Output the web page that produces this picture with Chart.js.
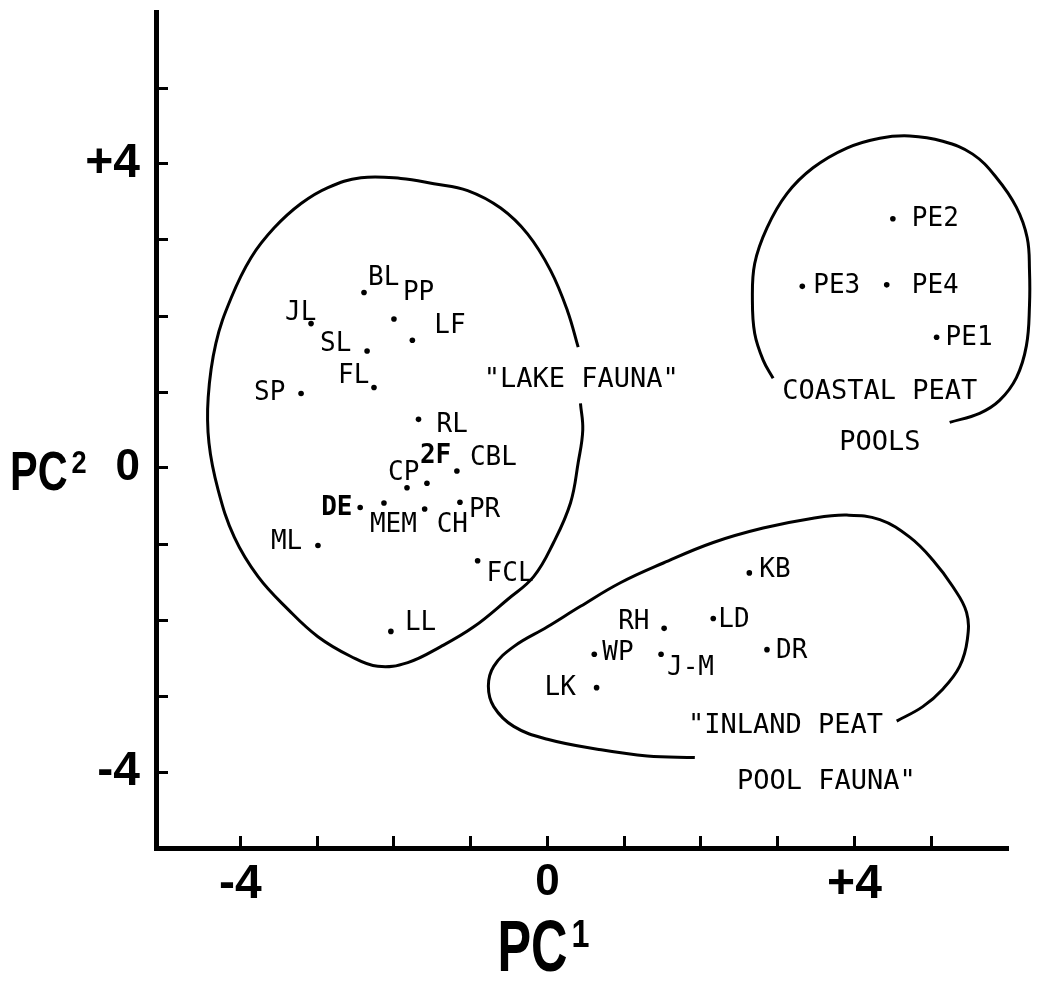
<!DOCTYPE html>
<html>
<head>
<script src="https://cdn.jsdelivr.net/npm/chart.js@4.4.1/dist/chart.umd.min.js"></script>
<title>PC1 / PC2 site scores</title>
<style>
  body { margin: 0; background: #fff; }
  canvas { display: block; }
</style>
</head>
<body>
<canvas id="pcaChart" width="1051" height="981"></canvas>
<script>
// site scores on the first two components
const siteNames = ['BL', 'PP', 'JL', 'LF', 'SL', 'FL', 'SP', 'RL', '2F', 'CBL', 'CP', 'DE', 'MEM', 'CH', 'PR', 'ML', 'FCL', 'LL',
                   'PE2', 'PE3', 'PE4', 'PE1',
                   'KB', 'RH', 'LD', 'WP', 'J-M', 'DR', 'LK'];
const pc1 = [-2.39, -2.00, -3.08, -1.76, -2.35, -2.26, -3.21, -1.68, -1.57, -1.18, -1.83, -2.44, -2.13, -1.60, -1.14, -2.99, -0.91, -2.04,
             4.50, 3.32, 4.42, 5.07,
             2.63, 1.52, 2.16, 0.61, 1.48, 2.86, 0.64];
const pc2 = [2.31, 1.96, 1.90, 1.68, 1.54, 1.06, 0.98, 0.64, -0.20, -0.04, -0.26, -0.52, -0.46, -0.54, -0.45, -1.02, -1.22, -2.15,
             3.28, 2.39, 2.41, 1.72,
             -1.38, -2.11, -1.98, -2.45, -2.45, -2.39, -2.89];

// hand drawn group outlines (PC1, PC2)
const lakeOutline = [[0.40, 1.59], [0.26, 2.07], [0.04, 2.60], [-0.26, 3.08], [-0.61, 3.42], [-1.04, 3.65], [-1.48, 3.74],
  [-1.91, 3.81], [-2.43, 3.82], [-2.86, 3.69], [-3.21, 3.48], [-3.56, 3.16], [-3.86, 2.77], [-4.12, 2.24], [-4.32, 1.64],
  [-4.42, 0.93], [-4.41, 0.33], [-4.29, -0.29], [-4.08, -0.91], [-3.77, -1.43], [-3.38, -1.86], [-2.99, -2.22],
  [-2.56, -2.48], [-2.21, -2.61], [-1.82, -2.56], [-1.39, -2.35], [-0.96, -2.09], [-0.52, -1.73], [-0.18, -1.43],
  [0.08, -0.98], [0.30, -0.46], [0.40, 0.07], [0.46, 0.50], [0.43, 0.85]];
const coastalOutline = [[2.94, 1.18], [2.81, 1.42], [2.70, 1.77], [2.67, 2.20], [2.70, 2.69], [2.86, 3.16], [3.12, 3.61],
  [3.46, 3.95], [3.90, 4.21], [4.33, 4.34], [4.72, 4.37], [5.15, 4.30], [5.54, 4.13], [5.85, 3.82], [6.11, 3.43],
  [6.25, 3.03], [6.28, 2.60], [6.28, 2.14], [6.24, 1.61], [6.11, 1.19], [5.89, 0.89], [5.63, 0.72], [5.24, 0.60]];
const inlandOutline = [[1.92, -3.81], [1.30, -3.79], [0.65, -3.70], [0.00, -3.57], [-0.44, -3.40], [-0.70, -3.14],
  [-0.77, -2.87], [-0.70, -2.61], [-0.44, -2.35], [0.00, -2.09], [0.43, -1.82], [0.95, -1.51], [1.51, -1.25],
  [2.16, -0.98], [2.81, -0.79], [3.46, -0.66], [3.90, -0.62], [4.33, -0.68], [4.72, -0.91], [5.02, -1.21],
  [5.28, -1.56], [5.46, -1.90], [5.47, -2.26], [5.37, -2.61], [5.15, -2.91], [4.89, -3.14], [4.55, -3.33]];

const groupNames = ['"LAKE FAUNA"', 'COASTAL PEAT', 'POOLS', '"INLAND PEAT', 'POOL FAUNA"'];

const xTickLabels = { '-4': '-4', '0': '0', '4': '+4' };
const yTickLabels = { '-4': '-4', '0': '0', '4': '+4' };

// where each site name sits relative to its dot, px (left edge, cap middle)
const labelOffsets = [[5, -17], [10, -29], [-25, -13], [23, -17], [-46, -9], [-35, -14], [-46, -3], [19, 3], [-6, -30],
  [14, -16], [-18, -17], [-38, -2], [-13, 20], [13, 13], [10, 5], [-46, -6], [10, 11], [15, -11],
  [20, -2], [12, -3], [26, -1], [10, -2],
  [11, -5], [-45, -9], [6, -1], [9, -4], [7, 11], [10, -1], [-51, -2]];
const boldLabels = ['2F', 'DE'];
// group captions anchored in data units: [pc1, pc2, align]
const groupAnchors = [[-0.83, 1.20, 'left'], [4.33, 1.04, 'center'], [4.33, 0.37, 'center'],
  [1.83, -3.36, 'left'], [2.47, -4.09, 'left']];

const monoFont = "'DejaVu Sans Mono', 'Liberation Mono', monospace";
const boldSans = "'Liberation Sans', Arial, sans-serif";

function outline(pts) {
  return {
    data: pts.map(p => ({ x: p[0], y: p[1] })),
    showLine: true,
    tension: 0.4,
    borderColor: '#000',
    borderWidth: 3,
    pointRadius: 0,
    clip: false
  };
}

// draws "PC" squeezed plus a raised digit
function axisTitle(ctx, base, sup, x, y, size, supSize, squeeze) {
  ctx.save();
  ctx.textBaseline = 'alphabetic';
  ctx.textAlign = 'left';
  ctx.font = 'bold ' + size + 'px ' + boldSans;
  const w = ctx.measureText(base).width * squeeze;
  ctx.save();
  ctx.translate(x, y);
  ctx.scale(squeeze, 1);
  ctx.fillText(base, 0, 0);
  ctx.restore();
  ctx.font = 'bold ' + supSize + 'px ' + boldSans;
  ctx.translate(x + w + 4, y - size * 0.716 + supSize * 0.716);
  ctx.scale(0.85, 1);
  ctx.fillText(sup, 0, 0);
  ctx.restore();
}

const textPlugin = {
  id: 'pcaText',
  afterDatasetsDraw(chart) {
    const ctx = chart.ctx;
    const xs = chart.scales.x, ys = chart.scales.y;
    const pts = chart.getDatasetMeta(0).data;
    ctx.save();
    ctx.fillStyle = '#000';
    ctx.textBaseline = 'alphabetic';
    siteNames.forEach((name, i) => {
      const p = pts[i];
      ctx.font = (boldLabels.includes(name) ? 'bold ' : '') + '26px ' + monoFont;
      ctx.textAlign = 'left';
      ctx.fillText(name, p.x + labelOffsets[i][0] - 1, p.y + labelOffsets[i][1] + 9.5);
    });
    ctx.font = '27px ' + monoFont;
    groupNames.forEach((g, i) => {
      const a = groupAnchors[i];
      ctx.textAlign = a[2];
      ctx.fillText(g, xs.getPixelForValue(a[0]), ys.getPixelForValue(a[1]) + 10);
    });
    ctx.restore();

    ctx.fillStyle = '#000';
    axisTitle(ctx, 'PC', '1', xs.getPixelForValue(0) - 50, 971, 72, 38, 0.7);
    axisTitle(ctx, 'PC', '2', 10, ys.getPixelForValue(0) + 22, 56, 32, 0.74);
  }
};

function tickFont(ctx) {
  const v = ctx.tick ? ctx.tick.value : null;
  return { family: boldSans, weight: 'bold', size: v === 0 ? 44 : 48 };
}

new Chart(document.getElementById('pcaChart'), {
  type: 'scatter',
  data: {
    datasets: [
      {
        data: siteNames.map((n, i) => ({ x: pc1[i], y: pc2[i] })),
        pointRadius: 2.8,
        pointBackgroundColor: '#000',
        pointBorderWidth: 0
      },
      outline(lakeOutline),
      outline(coastalOutline),
      outline(inlandOutline)
    ]
  },
  options: {
    responsive: false,
    animation: false,
    devicePixelRatio: 1,
    layout: { padding: { top: 12, right: 43, left: 0, bottom: 0 } },
    plugins: { legend: { display: false }, tooltip: { enabled: false } },
    scales: {
      x: {
        type: 'linear',
        min: -5.1,
        max: 6,
        afterBuildTicks(scale) {
          scale.ticks = [-4, -3, -2, -1, 0, 1, 2, 3, 4, 5].map(v => ({ value: v }));
        },
        afterFit(scale) {
          scale.height = 133;
          scale.paddingLeft = 0;
          scale.paddingRight = 0;
        },
        ticks: {
          color: '#000',
          padding: 20,
          maxRotation: 0,
          autoSkip: false,
          font: tickFont,
          callback: v => xTickLabels[String(v)] || ''
        },
        grid: { drawOnChartArea: false, drawTicks: true, tickLength: -12, tickWidth: 3, tickColor: '#000' },
        border: { display: true, color: '#000', width: 5 }
      },
      y: {
        type: 'linear',
        min: -5,
        max: 6,
        afterBuildTicks(scale) {
          scale.ticks = [-4, -3, -2, -1, 0, 1, 2, 3, 4, 5].map(v => ({ value: v }));
        },
        afterFit(scale) {
          scale.width = 156;
          scale.paddingTop = 0;
          scale.paddingBottom = 0;
        },
        ticks: {
          color: '#000',
          padding: 28,
          autoSkip: false,
          font: tickFont,
          callback: v => yTickLabels[String(v)] || ''
        },
        grid: { drawOnChartArea: false, drawTicks: true, tickLength: -12, tickWidth: 3, tickColor: '#000' },
        border: { display: true, color: '#000', width: 5 }
      }
    }
  },
  plugins: [textPlugin]
});
</script>
</body>
</html>
